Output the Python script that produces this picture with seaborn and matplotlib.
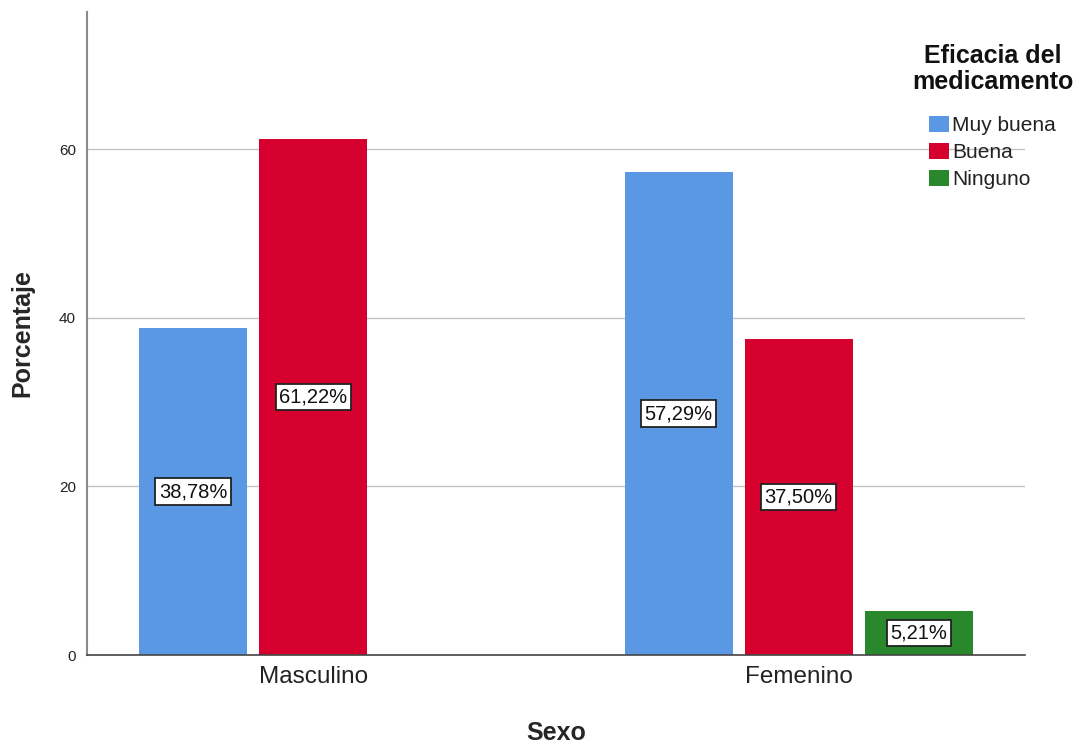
import pandas as pd
import matplotlib
matplotlib.use('Agg')
import matplotlib.pyplot as plt
import seaborn as sns

# datos
sexo = ['Masculino', 'Masculino', 'Femenino', 'Femenino', 'Femenino']
eficacia = ['Muy buena', 'Buena', 'Muy buena', 'Buena', 'Ninguno']
porcentaje = [38.78, 61.22, 57.29, 37.50, 5.21]

orden_sexo = ['Masculino', 'Femenino']
orden_eficacia = ['Muy buena', 'Buena', 'Ninguno']
colores = ['#5A98E4', '#D5002E', '#2A882C']

df = pd.DataFrame({'Sexo': sexo, 'Eficacia': eficacia, 'Porcentaje': porcentaje})

sns.set_theme(style='white')
plt.rcParams['font.family'] = ['Liberation Sans', 'DejaVu Sans']

fig = plt.figure(figsize=(10.81, 7.45), dpi=100)
ax = fig.add_axes([0.0805, 0.1208, 0.8677, 0.8631])

sns.barplot(data=df, x='Sexo', y='Porcentaje', hue='Eficacia',
            order=orden_sexo, hue_order=orden_eficacia, palette=colores,
            width=0.742, gap=0.1, saturation=1, linewidth=0, ax=ax)

# etiquetas de valor centradas en cada barra
for cont in ax.containers:
    etiquetas = [('%.2f%%' % v).replace('.', ',') for v in cont.datavalues]
    ax.bar_label(cont, labels=etiquetas, label_type='center', fontsize=14.5,
                 color='#111111',
                 bbox=dict(boxstyle='square,pad=0.18', facecolor='white',
                           edgecolor='#222222', linewidth=1.3))

ax.set_xlim(-0.466, 1.466)
ax.set_ylim(0, 76.3)
ax.set_yticks([0, 20, 40, 60])
ax.yaxis.grid(True, color='#c4c4c4', linewidth=1)
ax.set_axisbelow(True)
ax.tick_params(axis='y', length=0, labelsize=11, labelcolor='#222222', pad=8)
ax.tick_params(axis='x', length=0, labelsize=17.5, labelcolor='#222222', pad=8)

for s in ['top', 'right']:
    ax.spines[s].set_visible(False)
ax.spines['left'].set_color('#8a8a8a')
ax.spines['left'].set_linewidth(1.5)
ax.spines['bottom'].set_color('#444444')
ax.spines['bottom'].set_linewidth(1.2)

ax.set_xlabel('Sexo', fontsize=18, fontweight='bold', labelpad=24)
ax.set_ylabel('Porcentaje', fontsize=18, fontweight='bold', labelpad=18)

# título de la leyenda aparte, centrado
fig.text(993 / 1081, 1 - 44 / 745, 'Eficacia del\nmedicamento', ha='center', va='top',
         multialignment='center', fontsize=18, fontweight='bold', color='#111111',
         linespacing=1.12)

handles, labels = ax.get_legend_handles_labels()
leg = ax.legend(handles, labels, loc='upper left',
                bbox_to_anchor=(929 / 1081, 1 - 116 / 745),
                bbox_transform=fig.transFigure, frameon=False,
                fontsize=15, handlelength=0.95, handleheight=0.8,
                handletextpad=0.15, labelspacing=0.37, borderaxespad=0,
                borderpad=0)
for t in leg.get_texts():
    t.set_color('#222222')

fig.savefig('out.png', dpi=100)
